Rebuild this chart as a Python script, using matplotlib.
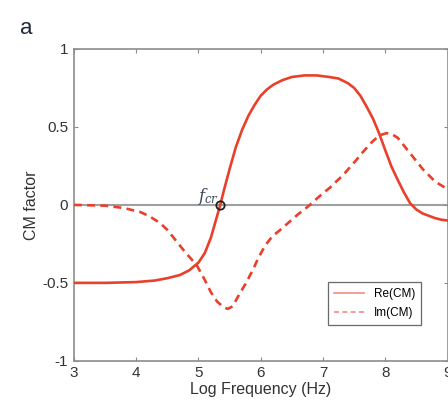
import matplotlib.pyplot as plt
import numpy as np

# valores
log_f_re = [3.0, 3.5, 4.0, 4.3, 4.5, 4.7, 4.85, 5.0, 5.1, 5.2, 5.3, 5.35, 5.4, 5.5, 5.6,
            5.7, 5.8, 5.9, 6.0, 6.1, 6.2, 6.35, 6.5, 6.7, 6.9, 7.1, 7.25, 7.4, 7.5, 7.6,
            7.7, 7.8, 7.9, 8.0, 8.1, 8.2, 8.3, 8.4, 8.5, 8.6, 8.7, 8.8, 8.9, 9.0]
re_cm = [-0.50, -0.50, -0.495, -0.485, -0.47, -0.45, -0.42, -0.37, -0.31, -0.21, -0.07,
         0.0, 0.08, 0.23, 0.37, 0.48, 0.57, 0.64, 0.70, 0.74, 0.77, 0.80, 0.82, 0.83,
         0.83, 0.82, 0.81, 0.78, 0.75, 0.70, 0.63, 0.555, 0.46, 0.35, 0.245, 0.16, 0.08,
         0.01, -0.03, -0.055, -0.07, -0.085, -0.095, -0.10]

log_f_im = [3.0, 3.5, 3.8, 4.06, 4.2, 4.38, 4.5, 4.65, 4.8, 4.97, 5.1, 5.2, 5.3, 5.4,
            5.47, 5.55, 5.66, 5.75, 5.87, 5.95, 6.03, 6.1, 6.19, 6.3, 6.4, 6.5, 6.6, 6.7,
            6.79, 6.9, 7.0, 7.11, 7.2, 7.32, 7.43, 7.54, 7.62, 7.7, 7.78, 7.86, 7.94, 8.02,
            8.1, 8.2, 8.3, 8.44, 8.6, 8.8, 9.0]
im_cm = [0.0, -0.005, -0.02, -0.045, -0.07, -0.115, -0.16, -0.235, -0.31, -0.385,
         -0.48, -0.56, -0.62, -0.655, -0.667, -0.65, -0.57, -0.51, -0.42, -0.35, -0.29,
         -0.245, -0.20, -0.165, -0.13, -0.095, -0.06, -0.03, 0.0, 0.04, 0.075, 0.11,
         0.145, 0.19, 0.24, 0.29, 0.33, 0.365, 0.40, 0.43, 0.45, 0.46, 0.455, 0.43, 0.38,
         0.31, 0.23, 0.15, 0.10]

f_cr = 5.35
x_ticks = [3, 4, 5, 6, 7, 8, 9]
y_ticks = [-1, -0.5, 0, 0.5, 1]
y_tick_labels = ['-1', '-0.5', '0', '0.5', '1']

plt.rcParams['font.family'] = ['Liberation Sans', 'DejaVu Sans']
rojo = '#e8402a'
gris = '#8c8c8c'

fig = plt.figure(figsize=(4.48, 4.11), dpi=100)
ax = fig.add_axes([0.165, 0.122, 0.834, 0.759])

ax.axhline(0, color='#a0a0a0', lw=1.5, zorder=1)
ax.plot(log_f_re, re_cm, color=rojo, lw=1.9, label='Re(CM)', zorder=3)
ax.plot(log_f_im, im_cm, color=rojo, lw=1.9, ls=(0, (3, 2)), label='Im(CM)', zorder=3)
ax.plot([f_cr], [0], 'o', ms=6, mfc='none', mec='#222222', mew=1.3, zorder=4)
ax.text(4.97, 0.025, r'$f_{cr}$', fontsize=12, family='DejaVu Serif',
        color='#3a4a5a', math_fontfamily='dejavuserif')

ax.set_xlim(3, 9)
ax.set_ylim(-1, 1)
ax.set_xticks(x_ticks)
ax.set_yticks(y_ticks)
ax.set_yticklabels(y_tick_labels)
ax.tick_params(direction='in', top=True, right=True, length=3, width=0.8,
               color=gris, labelsize=11, labelcolor='#333333', pad=4)
for s in ax.spines.values():
    s.set_color(gris)
    s.set_linewidth(1.2)

ax.set_xlabel('Log Frequency (Hz)', fontsize=11.5, color='#333333', labelpad=1)
ax.set_ylabel('CM factor', fontsize=11.5, color='#333333', labelpad=2)

leg = ax.legend(loc='lower right', bbox_to_anchor=(0.945, 0.095), fontsize=8.5,
                frameon=True, fancybox=False, handlelength=2.6, borderpad=0.5,
                labelspacing=0.6)
leg.get_frame().set_edgecolor('#444444')
leg.get_frame().set_linewidth(0.9)
for ln in leg.get_lines():
    ln.set_linewidth(1.2)
    ln.set_alpha(0.6)

fig.text(0.045, 0.955, 'a', fontsize=16, color='#1f2a3a', va='top')

fig.savefig('out.png', dpi=100)
